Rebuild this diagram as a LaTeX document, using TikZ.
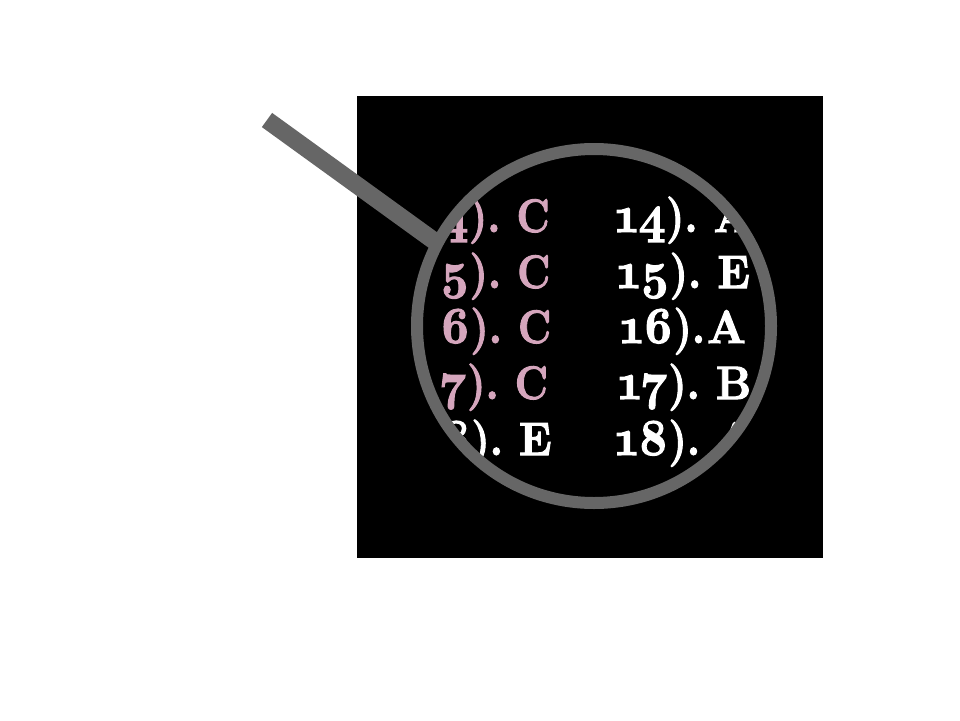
\documentclass[tikz,border=0pt]{standalone}
\usepackage{graphicx}
\usepackage{fontspec}
\newfontfamily\ansfont[Numbers=OldStyle,Extension=.otf,FakeBold=2.2]{lmroman10-bold}
\definecolor{ringgray}{HTML}{666666}
\definecolor{answerpink}{HTML}{D5A6BD}
\tikzset{
  answer/.style={anchor=base west,inner sep=0pt,outer sep=0pt,font=\ansfont\fontsize{47}{47}\selectfont},
  pinktext/.style={answer,text=answerpink},
  whitetext/.style={answer,text=white},
  glass/.style={draw=ringgray,line width=12pt},
  handle/.style={draw=ringgray,line width=17.5pt}
}
\newcommand{\sq}[1]{\scalebox{.88}[1]{#1}}
\newcommand{\ansline}[4]{\scalebox{.9}[1]{\fontsize{52}{52}\selectfont #1}\sq{).}\hspace{#3}\scalebox{#4}[1]{#2}}
\begin{document}
\begin{tikzpicture}[x=1pt,y=-1pt]
\useasboundingbox (0,0) rectangle (960,720);
\fill[white] (0,0) rectangle (960,720);
\fill[black] (357,96) rectangle (823,558);
\coordinate (handleend) at (267,120);
\coordinate (handlein) at (437,243);
\coordinate (lenscentre) at (594,326);
\draw[handle] (handleend) -- (handlein);
\begin{scope}
\clip (lenscentre) circle[radius=177pt];
\node[pinktext] (l4) at (441,232) {\ansline{4}{C}{16pt}{.85}};
\node[pinktext] (l5) at (440,288) {\ansline{5}{C}{16pt}{.85}};
\node[pinktext] (l6) at (440,343) {\ansline{6}{C}{16pt}{.85}};
\node[pinktext] (l7) at (440,399) {\ansline{7}{C}{16pt}{.85}};
\node[whitetext] (l8) at (441,455) {\ansline{8}{E}{16pt}{.92}};
\node[whitetext] (r14) at (615,232) {\ansline{14}{A}{16pt}{.92}};
\node[whitetext] (r15) at (617,288) {\ansline{15}{E}{16pt}{.92}};
\node[whitetext] (r16) at (620,343) {\ansline{16}{A}{2pt}{.95}};
\node[whitetext] (r17) at (618,399) {\ansline{17}{B}{16pt}{.92}};
\node[whitetext] (r18) at (615,455) {\ansline{18}{A}{16pt}{.92}};
\end{scope}
\draw[glass] (lenscentre) circle[radius=177pt];
\end{tikzpicture}
\end{document}
